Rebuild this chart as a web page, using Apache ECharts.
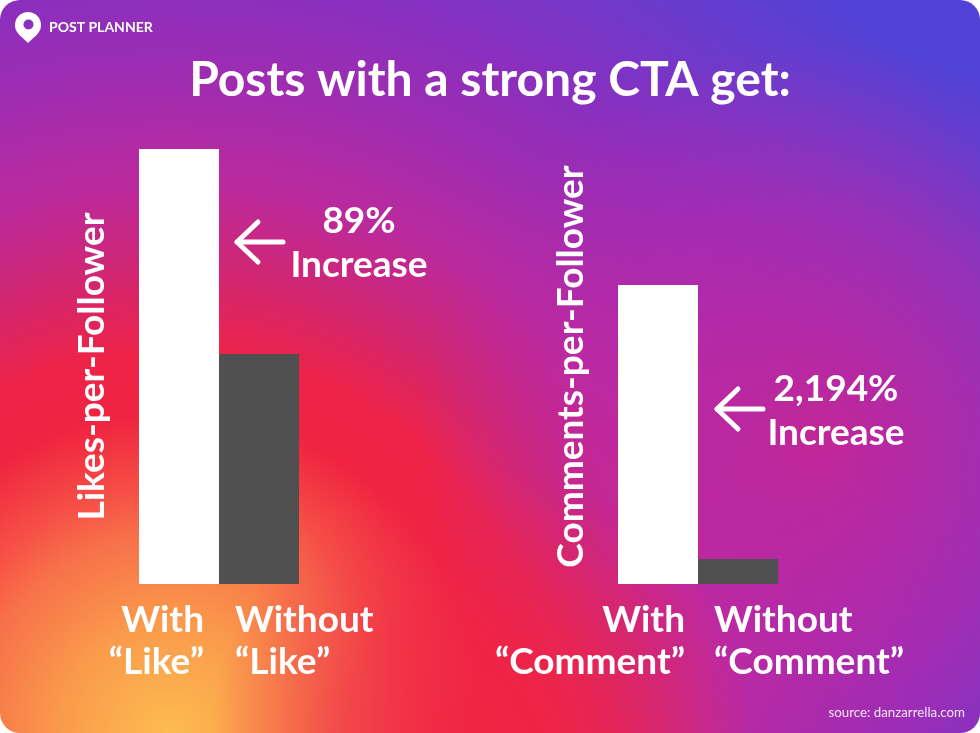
<!DOCTYPE html>
<html><head><meta charset="utf-8">
<script src="https://cdn.jsdelivr.net/npm/echarts@6/dist/echarts.min.js"></script>
<style>html,body{margin:0;padding:0;background:#fff}#c{width:980px;height:733px}</style>
</head><body><div id="c"></div>
<script>
const titleText = 'Posts with a strong CTA get:';
const categoriesLeft = ['With\n“Like”', 'Without\n“Like”'];
const categoriesRight = ['With\n“Comment”', 'Without\n“Comment”'];
const likesPerFollower = [4.35, 2.30];
const commentsPerFollower = [2.99, 0.25];
const axisMax = 4.35;
const axisNames = ['Likes-per-Follower', 'Comments-per-Follower'];
const increaseLabels = ['89%\nIncrease', '2,194%\nIncrease'];
const barColors = ['#ffffff', '#505050'];

const FONT = 'Lato';
const chart = echarts.init(document.getElementById('c'), null, {renderer: 'canvas'});

function cats(list, pads) {
  return list.map((v, i) => ({
    value: v,
    textStyle: i === 0
      ? {align: 'right', padding: [0, -pads[0], 0, 0]}
      : {align: 'left', padding: [0, 0, 0, -pads[1]]}
  }));
}
function xAxisFor(gi, list, pads) {
  return {
    type: 'category', gridIndex: gi, data: cats(list, pads),
    axisLine: {show: false}, axisTick: {show: false},
    axisLabel: {interval: 0, color: '#fff', fontSize: 37, fontWeight: 'bold', fontFamily: FONT, lineHeight: 42, margin: 15}
  };
}
function yAxisFor(gi, name) {
  return {
    type: 'value', gridIndex: gi, min: 0, max: axisMax, name: name,
    nameLocation: 'middle', nameRotate: 90, nameGap: 28,
    nameTextStyle: {color: '#fff', fontSize: 37, fontWeight: 'bold', fontFamily: FONT},
    axisLine: {show: false}, axisTick: {show: false}, axisLabel: {show: false}, splitLine: {show: false}
  };
}
function seriesFor(i, values) {
  return {
    type: 'bar', xAxisIndex: i, yAxisIndex: i, barCategoryGap: '0%', barGap: '0%',
    data: values.map((v, k) => ({value: v, itemStyle: {color: barColors[k]}})),
    silent: true
  };
}
function arrow(x, y) {
  return {
    type: 'polyline', z: 20,
    shape: {points: [[x + 21, y - 20], [x, y], [x + 21, y + 20]]},
    style: {stroke: '#fff', lineWidth: 5, lineCap: 'round', lineJoin: 'round', fill: null}
  };
}
function shaft(x, y) {
  return {
    type: 'line', z: 20,
    shape: {x1: x, y1: y, x2: x + 46, y2: y},
    style: {stroke: '#fff', lineWidth: 5, lineCap: 'round'}
  };
}
function annot(x, y, txt) {
  return {
    type: 'text', z: 20, x: x, y: y,
    style: {text: txt, fill: '#fff', font: 'bold 37px ' + FONT, align: 'center', verticalAlign: 'middle', lineHeight: 44}
  };
}
const R = 1000;
function st(d, c) { return {offset: d / R, color: c}; }
function bgRect(z, fill) {
  return {type: 'rect', z: z, silent: true, shape: {x: 0, y: 0, width: 980, height: 733, r: 20}, style: {fill: fill}};
}

const option = {
  animation: false,
  title: {
    text: titleText, left: 'center', top: 52,
    textStyle: {color: '#fff', fontSize: 48, fontWeight: 'bold', fontFamily: FONT}
  },
  grid: [
    {left: 139, top: 149, width: 160, height: 435},
    {left: 618, top: 149, width: 160, height: 435}
  ],
  xAxis: [xAxisFor(0, categoriesLeft, [25, 24]), xAxisFor(1, categoriesRight, [27, 24])],
  yAxis: [yAxisFor(0, axisNames[0]), yAxisFor(1, axisNames[1])],
  series: [seriesFor(0, likesPerFollower), seriesFor(1, commentsPerFollower)],
  graphic: [
    bgRect(-10, {type: 'radial', x: 170 / 980, y: 1, r: R / 733, colorStops: [
       st(0, '#fdbc50'), st(110, '#fa9a4b'), st(200, '#f7704a'), st(240, '#f65346'),
       st(320, '#f02341'), st(380, '#ee2348'), st(460, '#d22670'), st(550, '#bb2a9d'),
       st(650, '#a02cb0'), st(750, '#8a2fbf'), st(880, '#6a3bcc'), st(1000, '#5042d6')]}),
    bgRect(-9, {type: 'radial', x: 820 / 980, y: 440 / 733, r: 400 / 733, colorStops: [
       {offset: 0, color: 'rgba(198,38,148,0.9)'}, {offset: 0.55, color: 'rgba(190,40,165,0.55)'},
       {offset: 1, color: 'rgba(180,42,175,0)'}]}),
    bgRect(-8, {type: 'radial', x: 480 / 980, y: 740 / 733, r: 270 / 733, colorStops: [
       {offset: 0, color: 'rgba(240,36,66,0.9)'}, {offset: 0.5, color: 'rgba(238,36,72,0.6)'},
       {offset: 1, color: 'rgba(236,36,76,0)'}]}),
    // logo
    {type: 'circle', z: 20, shape: {cx: 28, cy: 25, r: 13}, style: {fill: '#fff'}},
    {type: 'polygon', z: 20, shape: {points: [[19, 34.4], [28, 43], [37, 34.4], [28, 25]]}, style: {fill: '#fff'}},
    {type: 'circle', z: 21, shape: {cx: 28.5, cy: 24.5, r: 5}, style: {fill: '#8a2fbf'}},
    {type: 'text', z: 20, x: 49, y: 27, style: {text: 'POST PLANNER', fill: '#fff', font: 'bold 14px ' + FONT, verticalAlign: 'middle'}},
    // annotations
    arrow(237, 242), shaft(237, 242), annot(359, 243, increaseLabels[0]),
    arrow(717, 409), shaft(717, 409), annot(836, 411, increaseLabels[1]),
    {type: 'text', z: 20, x: 965, y: 713, style: {text: 'source: danzarrella.com', fill: 'rgba(255,255,255,0.88)', font: '13.3px ' + FONT, align: 'right', verticalAlign: 'middle'}}
  ]
};
chart.setOption(option);
</script></body></html>
